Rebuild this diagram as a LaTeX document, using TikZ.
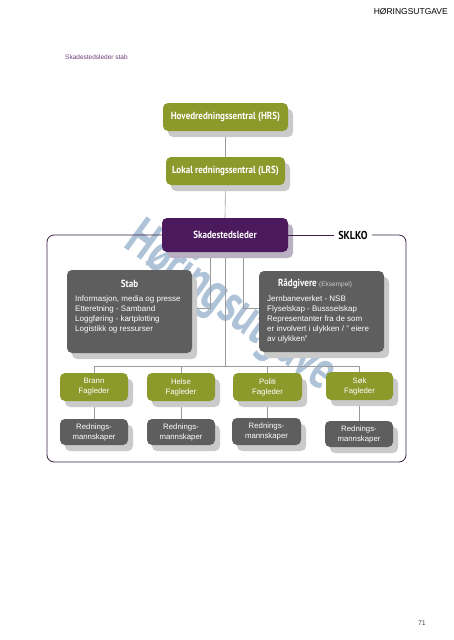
\documentclass[tikz,border=0pt]{standalone}
\usepackage{fontspec}
\setmainfont{Liberation Sans}
\newfontfamily\condfont[FakeStretch=0.88]{PT Sans}
\newfontfamily\wmfont[FakeStretch=0.72]{PT Sans}
\usetikzlibrary{shadows}
\pgfdeclarelayer{wmlayer}
\pgfdeclarelayer{connlayer}
\pgfsetlayers{wmlayer,connlayer,main}
\definecolor{olivebox}{HTML}{8C9A2C}
\definecolor{purplebox}{HTML}{4A1A5C}
\definecolor{graybox}{HTML}{5E5E5E}
\definecolor{shadowgray}{HTML}{CACACA}
\definecolor{shadowpurple}{HTML}{B9B0C2}
\definecolor{framecol}{HTML}{3A1F45}
\definecolor{linecol}{HTML}{9A9A9A}
\definecolor{wmcol}{HTML}{AFC3D8}
\definecolor{captioncol}{HTML}{6B3B7B}
\tikzset{
  box/.style={rounded corners=5pt, inner sep=0pt, text=white, align=center},
  gshadow/.style={drop shadow={shadow xshift=5pt, shadow yshift=-6pt, fill=shadowgray, opacity=1}},
  topbox/.style={box, gshadow, fill=olivebox, font=\condfont\bfseries\fontsize{10.3}{12}\selectfont},
  chiefbox/.style={box, fill=purplebox, font=\condfont\bfseries\fontsize{10.3}{12}\selectfont,
     drop shadow={shadow xshift=5pt, shadow yshift=-6pt, fill=shadowpurple, opacity=1}},
  bigbox/.style={box, gshadow, fill=graybox},
  fagbox/.style={box, gshadow, fill=olivebox, minimum width=68pt, minimum height=28pt,
     font=\fontsize{7.8}{10}\selectfont},
  crewbox/.style={box, gshadow, fill=graybox, minimum width=68pt, minimum height=26pt,
     font=\fontsize{7.8}{10}\selectfont},
  boxtitle/.style={inner sep=0pt, text=white, font=\condfont\bfseries\fontsize{10.3}{12}\selectfont},
  boxtext/.style={inner sep=0pt, text=white, align=left, font=\fontsize{8}{10}\selectfont},
  conn/.style={draw=linecol, line width=0.6pt},
  frameline/.style={draw=framecol, line width=0.8pt},
}
\begin{document}
\begin{tikzpicture}[x=1pt,y=-1pt]
\useasboundingbox (0,0) rectangle (453,640);
% page texts
\node[anchor=east, inner sep=0pt, font=\fontsize{8.5}{10}\selectfont] (hdr) at (448,12) {HØRINGSUTGAVE};
\node[anchor=west, inner sep=0pt, text=captioncol, font=\fontsize{6.5}{8}\selectfont] (cap) at (65,57) {Skadestedsleder stab};
\node[anchor=east, inner sep=0pt, text=black!70, font=\fontsize{7}{8}\selectfont] (pg) at (426,623) {71};
% watermark
\begin{pgfonlayer}{wmlayer}
\node[rotate=-36, inner sep=0pt, text=wmcol, font=\wmfont\bfseries\fontsize{55}{60}\selectfont] (wm) at (230,308) {Høringsutgave};
\end{pgfonlayer}
% coordinates
\coordinate (bus) at (225,366);
% boxes
\node[topbox, minimum width=125pt, minimum height=28pt] (hrs) at (225.5,117) {Hovedredningssentral (HRS)};
\node[topbox, minimum width=119pt, minimum height=28pt] (lrs) at (225.5,171) {Lokal redningssentral (LRS)};
\node[chiefbox, minimum width=126pt, minimum height=34pt] (sk) at (225,235) {Skadestedsleder};
\node[inner sep=4pt, font=\condfont\bfseries\fontsize{11.5}{13}\selectfont] (sklko) at (353,235) {SKLKO};
\node[bigbox, minimum width=125pt, minimum height=83pt] (stab) at (129.5,311.5) {};
\node[bigbox, minimum width=125pt, minimum height=81pt] (rad) at (321.5,311.5) {};
\node[fagbox] (bf) at (94,387) {Brann\\Fagleder};
\node[fagbox] (hf) at (181,387) {Helse\\Fagleder};
\node[fagbox, minimum width=69pt] (pf) at (267.5,387) {Politi\\Fagleder};
\node[fagbox, minimum width=67pt] (sf) at (359.5,386) {Søk\\Fagleder};
\node[crewbox] (br) at (94,432) {Rednings-\\mannskaper};
\node[crewbox] (hr) at (181,432) {Rednings-\\mannskaper};
\node[crewbox, minimum width=69pt, minimum height=27pt] (pr) at (266.5,431.5) {Rednings-\\mannskaper};
\node[crewbox] (sr) at (359,434) {Rednings-\\mannskaper};
% box texts
\node[boxtitle] (stabt) at (129.5,284) {Stab};
\node[boxtext, anchor=north west] (stabx) at (75,295) {Informasjon, media og presse\\Etteretning - Samband\\Loggføring - kartplotting\\Logistikk og ressurser};
\node[boxtitle] (radt) at (315,284) {Rådgivere {\normalfont\mdseries\fontsize{6.5}{8}\selectfont\color{white!80!black}\fontspec{Liberation Sans}(Eksempel)}};
\node[boxtext, anchor=north west] (radx) at (267,295) {Jernbaneverket - NSB\\Flyselskap - Bussselskap\\Representanter fra de som\\er involvert i ulykken / " eiere\\av ulykken"};
% frame
\draw[frameline, rounded corners=7pt] (sk.west) -| (47,462) -| (406,235) -- (sklko.east);
\draw[frameline] (sk.east) -- (sklko.west);
% connectors
\begin{pgfonlayer}{connlayer}
\draw[conn] (hrs.south) -- (lrs.north);
\draw[conn] (lrs.south) -- (sk.north);
\draw[conn] (sk.south) -- (bus);
\draw[conn] ([xshift=-15pt]sk.south) |- ([yshift=3.5pt]stab.east);
\draw[conn] ([xshift=18pt]sk.south) |- ([yshift=3.5pt]rad.west);
\draw[conn] (bf.north) -- (bf.north |- bus) -- (sf.north |- bus) -- (sf.north);
\draw[conn] (hf.north) -- (hf.north |- bus);
\draw[conn] (pf.north) -- (pf.north |- bus);
\draw[conn] (bf.south) -- (br.north);
\draw[conn] (hf.south) -- (hr.north);
\draw[conn] (pf.south) -- (pf.south |- pr.north);
\draw[conn] (sf.south) -- (sf.south |- sr.north);
\end{pgfonlayer}
\end{tikzpicture}
\end{document}
